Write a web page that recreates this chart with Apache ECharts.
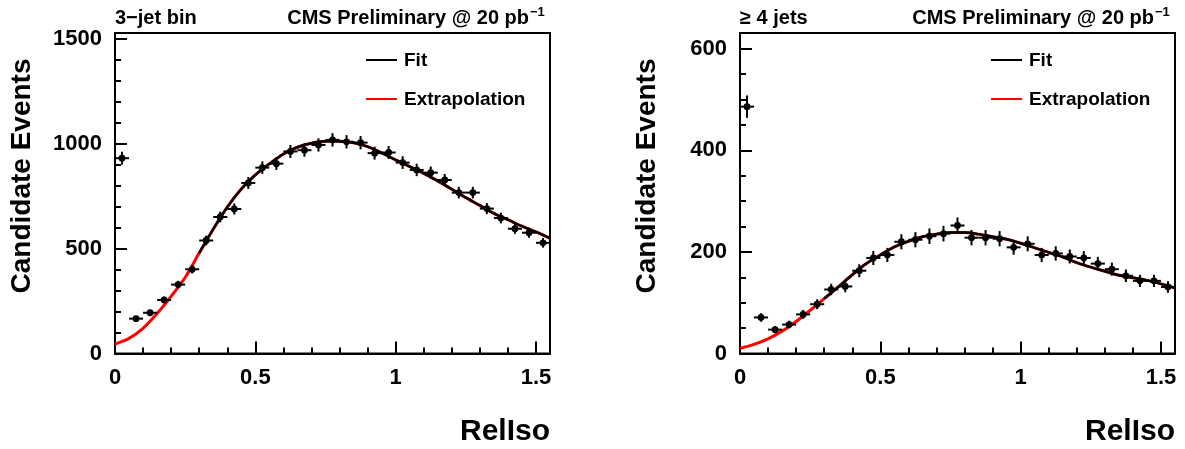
<!DOCTYPE html>
<html>
<head>
<meta charset="utf-8">
<script src="https://cdn.jsdelivr.net/npm/echarts@6/dist/echarts.min.js"></script>
<style>
  html, body { margin: 0; padding: 0; background: #fff; }
  #chart { width: 1185px; height: 449px; }
</style>
</head>
<body>
<div id="chart"></div>
<script>
// bin centres of the RelIso histogram (bin width 0.05)
var binCenters = [0.025, 0.075, 0.125, 0.175, 0.225, 0.275, 0.325, 0.375, 0.425, 0.475,
  0.525, 0.575, 0.625, 0.675, 0.725, 0.775, 0.825, 0.875, 0.925, 0.975,
  1.025, 1.075, 1.125, 1.175, 1.225, 1.275, 1.325, 1.375, 1.425, 1.475, 1.525];
// candidate events, 3-jet bin
var counts3jet = [930, 166, 194, 255, 328, 401, 538, 650, 688, 812,
  885, 904, 962, 968, 993, 1017, 1008, 1004, 954, 957,
  909, 874, 861, 826, 766, 766, 690, 645, 594, 575, 527];
// candidate events, >= 4 jets
var counts4jet = [486, 71, 47, 57, 77, 97, 126, 132, 163, 188,
  194, 220, 224, 231, 236, 252, 228, 228, 226, 209,
  216, 194, 197, 191, 188, 177, 166, 153, 143, 143, 131];

// fit curve sampled along RelIso
var curveX = [0, 0.05, 0.1, 0.15, 0.2, 0.25, 0.3, 0.35, 0.4, 0.45,
  0.5, 0.55, 0.6, 0.65, 0.7, 0.75, 0.8, 0.85, 0.9, 0.95,
  1.0, 1.05, 1.1, 1.15, 1.2, 1.25, 1.3, 1.35, 1.4, 1.45, 1.5, 1.55];
var fit3jet = [45, 72, 120, 190, 272, 362, 478, 592, 697, 783,
  850, 903, 950, 982, 1001, 1010, 1010, 1003, 985, 955,
  922, 890, 858, 822, 782, 742, 705, 667, 637, 606, 579, 548];
var fit4jet = [10, 18, 29, 44, 63, 85, 108, 131, 155, 177,
  194, 210, 221, 230, 235, 238, 238, 235, 230, 225,
  217, 208, 199, 190, 179, 170, 162, 154, 149, 144, 137, 129];
var fitStart = 0.3; // fit range starts here, below it the curve is the extrapolation

// ticks
var xMajor = [0, 0.5, 1, 1.5];
var xMinor = [0.1, 0.2, 0.3, 0.4, 0.6, 0.7, 0.8, 0.9, 1.1, 1.2, 1.3, 1.4];
var y3Major = [0, 500, 1000, 1500];
var y3Minor = [100, 200, 300, 400, 600, 700, 800, 900, 1100, 1200, 1300, 1400];
var y4Major = [0, 200, 400, 600];
var y4Minor = [50, 100, 150, 250, 300, 350, 450, 500, 550];

var FONT = '"Liberation Sans", Arial, Helvetica, sans-serif';
var halfBin = 0.025;

function pts(xs, ys) {
  return xs.map(function (x, i) { return [x, ys[i]]; });
}
function fitPart(xs, ys) {
  return pts(xs, ys).filter(function (p) { return p[0] >= fitStart - 1e-9; });
}

function renderPoint(params, api) {
  var x = api.value(0), y = api.value(1);
  var c = api.coord([x, y]);
  var l = api.coord([x - halfBin, y]);
  var r = api.coord([x + halfBin, y]);
  var err = Math.sqrt(y);
  var t = api.coord([x, y + err]);
  var b = api.coord([x, y - err]);
  var st = { stroke: '#000', lineWidth: 2 };
  return {
    type: 'group',
    children: [
      { type: 'line', shape: { x1: l[0], y1: c[1], x2: r[0], y2: c[1] }, style: st },
      { type: 'line', shape: { x1: c[0], y1: t[1], x2: c[0], y2: b[1] }, style: st },
      { type: 'circle', shape: { cx: c[0], cy: c[1], r: 3.4 }, style: { fill: '#000' } }
    ]
  };
}

function plain(v) { return String(v); }

function xAxes(gi) {
  return [
    {
      type: 'value', gridIndex: gi, min: 0, max: 1.55, position: 'bottom',
      splitLine: { show: false },
      axisLine: { show: true, lineStyle: { color: '#000', width: 2 } },
      axisTick: { inside: true, length: 12, customValues: xMajor, lineStyle: { color: '#000', width: 2 } },
      axisLabel: { customValues: xMajor, formatter: plain, margin: 13, color: '#000', fontFamily: FONT, fontWeight: 'bold', fontSize: 22 }
    },
    {
      type: 'value', gridIndex: gi, min: 0, max: 1.55, position: 'bottom',
      splitLine: { show: false },
      axisLine: { show: false },
      axisTick: { inside: true, length: 6, customValues: xMinor, lineStyle: { color: '#000', width: 2 } },
      axisLabel: { show: false }
    }
  ];
}
function yAxes(gi, max, major, minor) {
  return [
    {
      type: 'value', gridIndex: gi, min: 0, max: max, position: 'left',
      splitLine: { show: false },
      axisLine: { show: true, lineStyle: { color: '#000', width: 2 } },
      axisTick: { inside: true, length: 12, customValues: major, lineStyle: { color: '#000', width: 2 } },
      axisLabel: { customValues: major, formatter: plain, margin: 13, color: '#000', fontFamily: FONT, fontWeight: 'bold', fontSize: 22 }
    },
    {
      type: 'value', gridIndex: gi, min: 0, max: max, position: 'left',
      splitLine: { show: false },
      axisLine: { show: false },
      axisTick: { inside: true, length: 6, customValues: minor, lineStyle: { color: '#000', width: 2 } },
      axisLabel: { show: false }
    }
  ];
}

function txt(x, y, s, size, align, extra) {
  var o = {
    type: 'text', x: x, y: y, z: 100,
    style: { text: s, fill: '#000', font: 'bold ' + size + 'px ' + FONT, align: align, verticalAlign: 'middle' }
  };
  if (extra) for (var k in extra) o[k] = extra[k];
  return o;
}
function legendLine(x1, x2, y, color) {
  return { type: 'line', z: 100, shape: { x1: x1, y1: y, x2: x2, y2: y }, style: { stroke: color, lineWidth: 2 } };
}

function panelGraphics(dx, label) {
  return [
    txt(115 + dx, 18, label, 20, 'left'),
    txt(529 + dx, 18, 'CMS Preliminary @ 20 pb', 20, 'right'),
    txt(530 + dx, 12, '\u22121', 13, 'left'),
    legendLine(366 + dx, 397 + dx, 60, '#000'),
    txt(404 + dx, 61, 'Fit', 19, 'left'),
    legendLine(366 + dx, 397 + dx, 99, '#ff0000'),
    txt(404 + dx, 100, 'Extrapolation', 19, 'left'),
    txt(550 + dx, 432, 'RelIso', 30, 'right'),
    txt(22 + dx, 176, 'Candidate Events', 28, 'center', { rotation: Math.PI / 2 })
  ];
}

var chart = echarts.init(document.getElementById('chart'), null, { renderer: 'canvas' });
var option = {
  backgroundColor: '#fff',
  animation: false,
  grid: [
    { left: 115, top: 33, width: 435, height: 320.5, show: true, borderColor: '#000', borderWidth: 2, backgroundColor: 'transparent' },
    { left: 740, top: 33, width: 435, height: 320.5, show: true, borderColor: '#000', borderWidth: 2, backgroundColor: 'transparent' }
  ],
  xAxis: xAxes(0).concat(xAxes(1)),
  yAxis: yAxes(0, 1526, y3Major, y3Minor).concat(yAxes(1, 631, y4Major, y4Minor)),
  series: [
    { type: 'line', xAxisIndex: 0, yAxisIndex: 0, data: pts(curveX, fit3jet), smooth: 0.3, showSymbol: false,
      lineStyle: { color: '#ff0000', width: 3 }, z: 2 },
    { type: 'line', xAxisIndex: 0, yAxisIndex: 0, data: fitPart(curveX, fit3jet), smooth: 0.3, showSymbol: false,
      lineStyle: { color: '#000', width: 2.5 }, z: 3 },
    { type: 'custom', xAxisIndex: 0, yAxisIndex: 0, data: pts(binCenters, counts3jet), renderItem: renderPoint, z: 4 },
    { type: 'line', xAxisIndex: 2, yAxisIndex: 2, data: pts(curveX, fit4jet), smooth: 0.3, showSymbol: false,
      lineStyle: { color: '#ff0000', width: 3 }, z: 2 },
    { type: 'line', xAxisIndex: 2, yAxisIndex: 2, data: fitPart(curveX, fit4jet), smooth: 0.3, showSymbol: false,
      lineStyle: { color: '#000', width: 2.5 }, z: 3 },
    { type: 'custom', xAxisIndex: 2, yAxisIndex: 2, data: pts(binCenters, counts4jet), renderItem: renderPoint, z: 4 }
  ],
  graphic: panelGraphics(0, '3\u2212jet bin').concat(panelGraphics(625, '\u2265 4 jets'))
};
chart.setOption(option);
</script>
</body>
</html>
